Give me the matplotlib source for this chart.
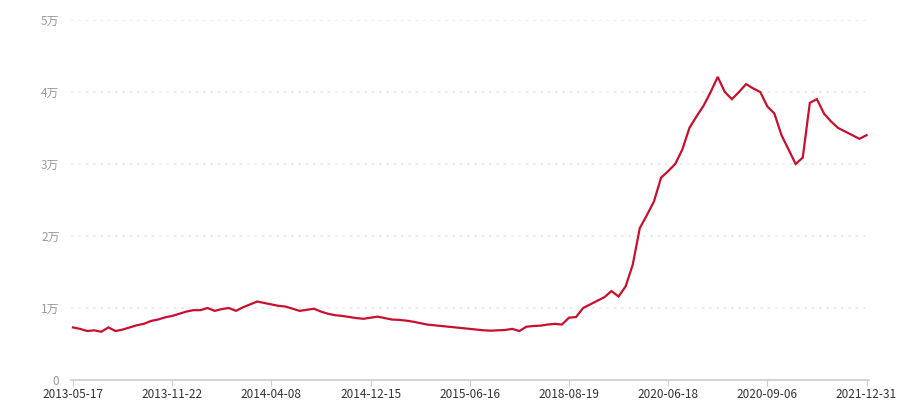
import matplotlib
matplotlib.use('Agg')
import matplotlib.pyplot as plt
import numpy as np

plt.rcParams['font.family'] = ['Noto Sans CJK SC', 'DejaVu Sans']

# 数据 (单位: 元)
vals = [0.73, 0.71, 0.68, 0.69, 0.67, 0.73, 0.68, 0.70, 0.73, 0.76,
        0.78, 0.82, 0.84, 0.87, 0.89, 0.92, 0.95, 0.97, 0.97, 1.00,
        0.96, 0.985, 1.00, 0.96, 1.01, 1.05, 1.09, 1.07, 1.05, 1.03,
        1.02, 0.99, 0.96, 0.975, 0.99, 0.95, 0.92, 0.90, 0.89, 0.875,
        0.86, 0.85, 0.865, 0.88, 0.86, 0.84, 0.835, 0.825, 0.81, 0.79,
        0.77, 0.76, 0.75, 0.74, 0.73, 0.72, 0.71, 0.70, 0.69, 0.685,
        0.69, 0.695, 0.71, 0.68, 0.74, 0.75, 0.755, 0.77, 0.78, 0.77,
        0.865, 0.875, 1.00, 1.05, 1.10, 1.15, 1.235, 1.16, 1.30, 1.60,
        2.11, 2.29, 2.48, 2.81, 2.90, 3.00, 3.20, 3.50, 3.66, 3.81,
        4.00, 4.21, 4.00, 3.90, 4.00, 4.11, 4.05, 4.00, 3.80, 3.70,
        3.40, 3.20, 3.00, 3.09, 3.85, 3.90, 3.70, 3.59, 3.50, 3.45,
        3.40, 3.35, 3.40]
values = np.array(vals) * 10000

tick_labels = ['2013-05-17', '2013-11-22', '2014-04-08', '2014-12-15',
               '2015-06-16', '2018-08-19', '2020-06-18', '2020-09-06',
               '2021-12-31']
tick_step = 14

y_ticks = [0, 10000, 20000, 30000, 40000, 50000]
y_labels = ['0', '1万', '2万', '3万', '4万', '5万']

fig = plt.figure(figsize=(9, 4), dpi=100)
ax = fig.add_axes([70.5/900, 0.05, (869-70.5)/900, 0.90])

x = np.arange(len(values))
ax.plot(x, values, color='#c8102e', lw=1.6, solid_joinstyle='miter')

ax.set_xlim(-0.35, len(values) - 1 + 0.35)
ax.set_ylim(0, 50000)
ax.set_xticks(np.arange(0, len(values), tick_step))
ax.set_xticklabels(tick_labels, fontsize=8.5, color='#333333')
ax.set_yticks(y_ticks)
ax.set_yticklabels(y_labels, fontsize=8.5, color='#999999')

ax.grid(axis='y', color='#e9e9e9', ls=(0, (1.6, 2.8)), lw=1.2)
ax.set_axisbelow(True)
for s in ['top', 'right', 'left']:
    ax.spines[s].set_visible(False)
ax.spines['bottom'].set_color('#cccccc')
ax.spines['bottom'].set_linewidth(1.2)
ax.tick_params(axis='x', length=4, color='#cccccc', pad=2)
ax.tick_params(axis='y', length=0, pad=8)

fig.savefig('out.png')
